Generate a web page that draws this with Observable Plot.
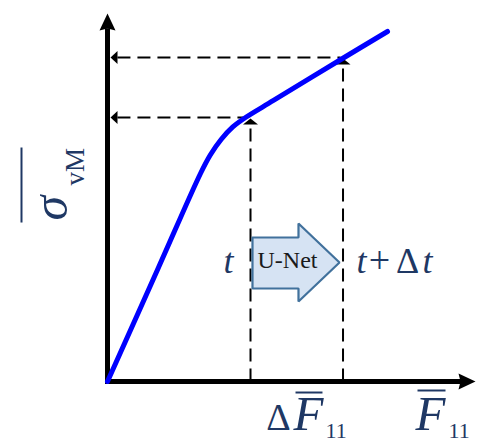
<!DOCTYPE html>
<html>
<head>
<meta charset="utf-8">
<script src="https://cdn.jsdelivr.net/npm/d3@7"></script>
<script src="https://cdn.jsdelivr.net/npm/@observablehq/plot@0.6"></script>
<style>
  html, body { margin: 0; padding: 0; background: #fff; }
</style>
</head>
<body>
<div id="chart"></div>
<script>
// ---- data (arbitrary units, axes span 0..100) ----
// stress-strain curve
const curveF = [0, 13.86, 25.27, 27.93, 30.87, 34.05, 37.50, 45.11, 63.86, 76.09];
const curveS = [0, 31.06, 56.68, 61.72, 65.94, 69.35, 71.93, 76.57, 88.01, 95.37];

// the two states t and t+Δt
const stepF = [38.86, 64.0];     // vertical dashed lines
const stepS = [71.93, 88.28];    // horizontal dashed lines
const stepTop = [70.30, 86.65];  // top of vertical dashed lines
const stepEnd = [36.96, 63.3];   // end of horizontal dashed lines
const stepTip = [71.66, 88.01];  // tips of the small upward heads

// block arrow (U-Net) outline
const blockF = [39.40, 51.90, 51.90, 63.04, 51.90, 51.90, 39.40, 39.40];
const blockS = [39.24, 39.24, 43.05, 32.43, 21.80, 25.34, 25.34, 39.24];

// labels
const labels = [
  {text: "σ",  x: -10.87, y: 43.87, size: 50, italic: true,  anchor: "start",  rotate: -90},
  {text: "vM", x: -6.52,  y: 53.41, size: 27, italic: false, anchor: "start",  rotate: -90},
  {text: "t",  x: 32.88,  y: 29.43, size: 36, italic: true,  anchor: "middle", rotate: 0},
  {text: "t",  x: 69.02,  y: 29.43, size: 36, italic: true,  anchor: "middle", rotate: 0},
  {text: "+",  x: 73.91,  y: 29.43, size: 38, italic: false, anchor: "middle", rotate: 0},
  {text: "Δ",  x: 81.52,  y: 29.43, size: 36, italic: false, anchor: "middle", rotate: 0},
  {text: "t",  x: 86.96,  y: 29.43, size: 36, italic: true,  anchor: "middle", rotate: 0},
  {text: "Δ",  x: 46.47,  y: -13.35, size: 38, italic: false, anchor: "middle", rotate: 0},
  {text: "F",  x: 54.62,  y: -13.35, size: 49, italic: true,  anchor: "middle", rotate: 0},
  {text: "11", x: 59.24,  y: -15.26, size: 22, italic: false, anchor: "start",  rotate: 0},
  {text: "F",  x: 87.77,  y: -13.35, size: 49, italic: true,  anchor: "middle", rotate: 0},
  {text: "11", x: 92.66,  y: -15.26, size: 22, italic: false, anchor: "start",  rotate: 0}
];
// overbars of σ and F
const bars = [
  {x1: -23.37, y1: 43.32, x2: -23.37, y2: 63.76},
  {x1: 51.09,  y1: -3.00, x2: 58.42,  y2: -3.00},
  {x1: 84.24,  y1: -2.45, x2: 91.85,  y2: -2.45}
];
const blockLabel = [{text: "U-Net", x: 40.76, y: 31.06}];

// ---- derived tables ----
const curve = curveF.map((f, i) => ({f, s: curveS[i]}));
const block = blockF.map((f, i) => ({f, s: blockS[i]}));
const dashes = [
  ...stepS.map((s, i) => ({x1: 2.7, y1: s, x2: stepEnd[i], y2: s})),
  ...stepF.map((f, i) => ({x1: f, y1: 0, x2: f, y2: stepTop[i]}))
];
const axes = [{x1: 0, y1: 0, x2: 95.7, y2: 0}, {x1: 0, y1: 0, x2: 0, y2: 95.6}];
const axisHeads = [{x: 100, y: 0, r: 90}, {x: 0, y: 100.27, r: 0}];
const leftHeads = stepS.map(s => ({x: 0.82, y: s}));
const upHeads = stepF.map((f, i) => ({x: f, y: stepTip[i]}));

const tri = {draw(ctx, l, r) { ctx.moveTo(-r, 0); ctx.lineTo(0, -l); ctx.lineTo(r, 0); ctx.closePath(); }};
const stealth = {draw(ctx, l, r) { ctx.moveTo(-r, 0); ctx.lineTo(0, -l); ctx.lineTo(r, 0); ctx.lineTo(0, -l * 0.12); ctx.closePath(); }};

const navy = "#1f3864";
const serif = "Liberation Serif, Times New Roman, serif";

const chart = Plot.plot({
  width: 488,
  height: 444,
  marginLeft: 107,
  marginRight: 13,
  marginTop: 14,
  marginBottom: 63,
  x: {domain: [0, 100], axis: null},
  y: {domain: [0, 100], axis: null},
  style: {background: "#fff", overflow: "visible"},
  marks: [
    Plot.link(dashes, {x1: "x1", y1: "y1", x2: "x2", y2: "y2", stroke: "black", strokeWidth: 2, strokeDasharray: "13,7"}),
    Plot.line(block, {x: "f", y: "s", fill: "#d6e3f3", stroke: "#41719c", strokeWidth: 2.2, strokeLinejoin: "miter", curve: "linear"}),
    Plot.link(axes, {x1: "x1", y1: "y1", x2: "x2", y2: "y2", stroke: "black", strokeWidth: 5, strokeLinecap: "square"}),
    Plot.vector(axisHeads, {x: "x", y: "y", rotate: "r", length: 17, r: 8, anchor: "end", shape: stealth, fill: "black", stroke: "none"}),
    Plot.vector(leftHeads, {x: "x", y: "y", rotate: -90, length: 7, r: 6.5, anchor: "end", shape: tri, fill: "black", stroke: "none"}),
    Plot.vector(upHeads, {x: "x", y: "y", rotate: 0, length: 6, r: 7.5, anchor: "end", shape: tri, fill: "black", stroke: "none"}),
    Plot.line(curve, {x: "f", y: "s", stroke: "#0000ff", strokeWidth: 5, curve: "catmull-rom"}),
    Plot.text(labels.filter(d => d.italic && d.anchor === "middle"), {x: "x", y: "y", text: "text", fontSize: "size", rotate: "rotate", textAnchor: "middle", lineAnchor: "bottom", fontStyle: "italic", fontFamily: serif, fill: navy}),
    Plot.text(labels.filter(d => d.italic && d.anchor === "start"), {x: "x", y: "y", text: "text", fontSize: "size", rotate: "rotate", textAnchor: "start", lineAnchor: "bottom", fontStyle: "italic", fontFamily: serif, fill: navy}),
    Plot.text(labels.filter(d => !d.italic && d.anchor === "middle"), {x: "x", y: "y", text: "text", fontSize: "size", rotate: "rotate", textAnchor: "middle", lineAnchor: "bottom", fontFamily: serif, fill: navy}),
    Plot.text(labels.filter(d => !d.italic && d.anchor === "start"), {x: "x", y: "y", text: "text", fontSize: "size", rotate: "rotate", textAnchor: "start", lineAnchor: "bottom", fontFamily: serif, fill: navy}),
    Plot.link(bars, {x1: "x1", y1: "y1", x2: "x2", y2: "y2", stroke: navy, strokeWidth: 2}),
    Plot.text(blockLabel, {x: "x", y: "y", text: "text", fontSize: 24, textAnchor: "start", lineAnchor: "bottom", fontFamily: serif, fill: "#1a1a1a"})
  ]
});
document.getElementById("chart").appendChild(chart);
</script>
</body>
</html>
